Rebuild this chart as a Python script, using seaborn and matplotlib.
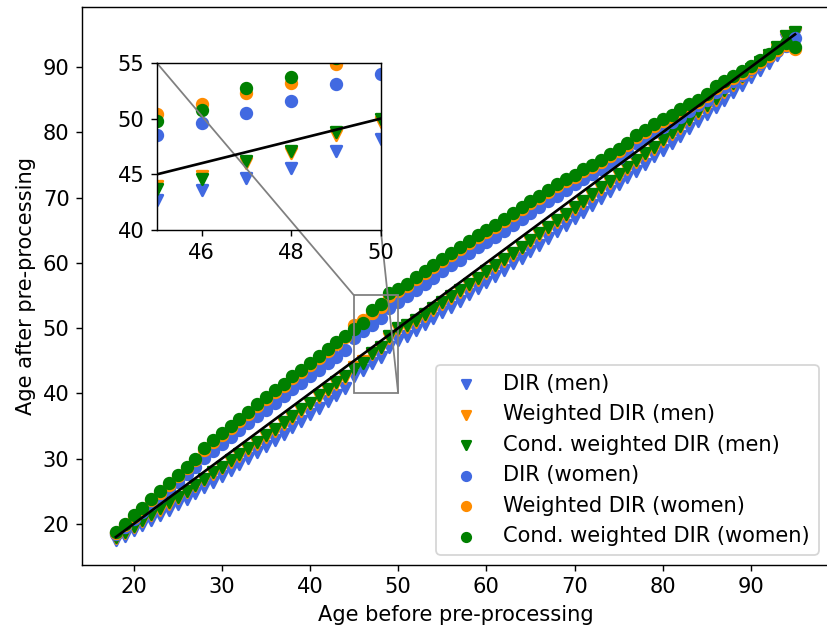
import matplotlib
matplotlib.use("Agg")
import matplotlib.pyplot as plt
import seaborn as sns
from mpl_toolkits.axes_grid1.inset_locator import mark_inset

# Age before pre-processing (one point per age per series)
ages = list(range(18, 96))

# Age after pre-processing, men
men_dir = [17.6, 18.2, 19.0, 19.8, 20.6, 21.4, 22.2, 23.0, 23.9, 24.7,
           25.6, 26.5, 27.4, 28.3, 29.2, 30.1, 31.0, 31.9, 32.9, 33.8,
           34.8, 35.8, 36.8, 37.8, 38.8, 39.8, 40.8, 42.7, 43.6, 44.7,
           45.6, 47.1, 48.2, 48.8, 49.7, 50.6, 51.5, 52.4, 53.3, 54.2,
           55.2, 56.1, 57.0, 58.0, 58.9, 59.9, 60.8, 61.8, 62.8, 63.8,
           64.8, 65.8, 66.8, 67.8, 68.9, 69.9, 71.0, 72.0, 73.1, 74.1,
           75.2, 76.3, 77.3, 78.4, 79.5, 80.6, 81.7, 82.8, 83.9, 85.0,
           86.1, 87.2, 88.4, 89.5, 90.6, 91.8, 94.3, 95.0]
men_wdir = [17.9, 18.6, 19.5, 20.4, 21.3, 22.2, 23.1, 24.0, 24.9, 25.8,
            26.7, 27.7, 28.6, 29.5, 30.4, 31.4, 32.3, 33.3, 34.3, 35.3,
            36.3, 37.3, 38.3, 39.4, 40.4, 41.4, 42.4, 44.0, 44.9, 46.0,
            46.9, 48.5, 49.7, 50.1, 51.0, 51.9, 52.8, 53.7, 54.6, 55.5,
            56.5, 57.4, 58.4, 59.3, 60.3, 61.2, 62.2, 63.2, 64.2, 65.2,
            66.2, 67.2, 68.2, 69.2, 70.2, 71.3, 72.3, 73.3, 74.4, 75.4,
            76.5, 77.5, 78.6, 79.7, 80.7, 81.8, 82.9, 83.9, 85.0, 86.1,
            87.2, 88.3, 89.4, 90.5, 91.6, 92.8, 94.6, 95.2]
men_cwdir = [18.0, 18.8, 19.7, 20.6, 21.5, 22.4, 23.3, 24.2, 25.1, 26.0,
             26.9, 27.9, 28.8, 29.8, 30.7, 31.7, 32.6, 33.6, 34.6, 35.6,
             36.6, 37.6, 38.6, 39.7, 40.7, 41.7, 42.7, 43.7, 44.6, 46.2,
             47.1, 48.8, 50.0, 50.4, 51.3, 52.2, 53.1, 54.0, 54.9, 55.8,
             56.8, 57.7, 58.7, 59.6, 60.6, 61.5, 62.5, 63.5, 64.5, 65.5,
             66.5, 67.5, 68.5, 69.5, 70.5, 71.6, 72.6, 73.6, 74.7, 75.7,
             76.8, 77.8, 78.9, 80.0, 81.0, 82.1, 83.2, 84.2, 85.3, 86.4,
             87.5, 88.6, 89.7, 90.8, 91.9, 93.0, 94.8, 95.3]

# Age after pre-processing, women
women_dir = [18.5, 19.6, 20.8, 21.9, 23.0, 24.1, 25.2, 26.4, 27.6, 28.7,
             30.1, 31.2, 32.3, 33.3, 34.4, 35.4, 36.5, 37.5, 38.6, 39.6,
             40.6, 41.6, 42.6, 43.6, 44.6, 45.6, 46.6, 48.5, 49.6, 50.5,
             51.6, 53.1, 54.0, 54.9, 55.9, 56.8, 57.7, 58.7, 59.6, 60.5,
             61.5, 62.4, 63.2, 64.0, 64.9, 65.8, 66.7, 67.7, 68.6, 69.4,
             70.3, 71.2, 72.0, 72.8, 73.6, 74.4, 75.2, 76.1, 77.0, 78.3,
             79.1, 80.0, 80.8, 81.6, 82.4, 83.3, 84.1, 85.0, 86.2, 87.0,
             87.9, 88.8, 89.7, 90.6, 91.5, 92.5, 93.2, 94.5]
women_wdir = [18.6, 19.8, 21.1, 22.3, 23.6, 24.8, 26.0, 27.3, 28.6, 29.8,
              31.3, 32.5, 33.6, 34.7, 35.8, 36.9, 38.0, 39.1, 40.2, 41.2,
              42.3, 43.3, 44.4, 45.4, 46.5, 47.5, 48.6, 50.4, 51.3, 52.3,
              53.2, 54.9, 55.7, 56.5, 57.5, 58.4, 59.3, 60.3, 61.2, 62.1,
              63.1, 64.0, 64.7, 65.5, 66.4, 67.3, 68.2, 69.2, 70.0, 70.8,
              71.7, 72.5, 73.2, 74.0, 74.7, 75.5, 76.3, 77.2, 78.0, 79.3,
              80.1, 80.9, 81.7, 82.4, 83.2, 84.0, 84.7, 85.6, 86.8, 87.5,
              88.3, 89.1, 89.9, 90.8, 91.7, 92.6, 93.3, 92.8]
women_cwdir = [18.8, 20.0, 21.3, 22.5, 23.8, 25.0, 26.2, 27.5, 28.8, 30.0,
               31.6, 32.8, 33.9, 35.0, 36.1, 37.2, 38.3, 39.4, 40.5, 41.5,
               42.6, 43.6, 44.7, 45.7, 46.8, 47.8, 48.8, 49.8, 50.8, 52.7,
               53.7, 55.4, 56.0, 56.8, 57.8, 58.7, 59.6, 60.6, 61.5, 62.4,
               63.4, 64.3, 65.0, 65.8, 66.7, 67.6, 68.5, 69.5, 70.3, 71.1,
               72.0, 72.8, 73.5, 74.3, 75.0, 75.8, 76.6, 77.5, 78.3, 79.6,
               80.4, 81.2, 82.0, 82.7, 83.5, 84.3, 85.0, 85.9, 87.1, 87.8,
               88.6, 89.4, 90.2, 91.1, 92.0, 92.9, 93.6, 93.0]

labels = ["DIR (men)", "Weighted DIR (men)", "Cond. weighted DIR (men)",
          "DIR (women)", "Weighted DIR (women)", "Cond. weighted DIR (women)"]
values = [men_dir, men_wdir, men_cwdir, women_dir, women_wdir, women_cwdir]
markers = ["v", "v", "v", "o", "o", "o"]
colors = ["royalblue", "darkorange", "green", "royalblue", "darkorange", "green"]

inset_xlim = (45, 50)
inset_ylim = (40, 55)
inset_xticks = [46, 48, 50]
inset_yticks = [40, 45, 50, 55]

plt.rcParams["font.size"] = 11.8

DPI = 128
W, H = 827, 633
fig = plt.figure(figsize=(W / DPI, H / DPI), dpi=DPI)
ax = fig.add_axes([82 / W, (H - 565) / H, (829 - 82) / W, (565 - 7) / H])


def draw_series(target, with_labels):
    for lab, vals, mk, col in zip(labels, values, markers, colors):
        kw = {"label": lab} if with_labels else {}
        sns.scatterplot(x=ages, y=vals, marker=mk, color=col,
                        edgecolor="face", linewidth=1.5, s=36,
                        legend=False, ax=target, **kw)
    # identity line: age after == age before
    target.plot(ages, ages, color="black", linewidth=1.5)


draw_series(ax, True)
ax.set_xlabel("Age before pre-processing")
ax.set_ylabel("Age after pre-processing")
ax.legend(loc="lower right", markerscale=0.8)

axins = ax.inset_axes([0.1, 0.6, 0.3, 0.3])
draw_series(axins, False)
axins.set_xlim(*inset_xlim)
axins.set_ylim(*inset_ylim)
axins.set_xticks(inset_xticks)
axins.set_yticks(inset_yticks)
mark_inset(ax, axins, loc1=2, loc2=4, fc="none", ec="0.5")

fig.savefig("out.png", dpi=DPI)
